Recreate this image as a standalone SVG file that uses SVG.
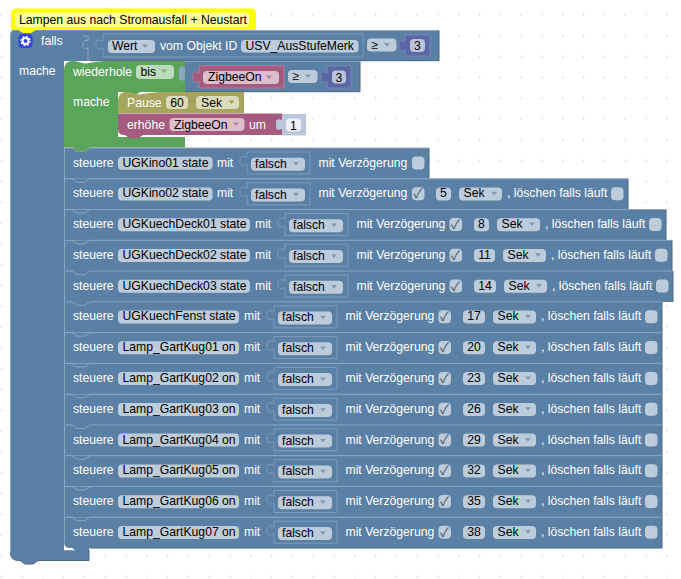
<svg xmlns="http://www.w3.org/2000/svg" width="681" height="579" viewBox="0 0 681 579">
<style>
text{font-family:"Liberation Sans",Arial,sans-serif;font-size:12.2px;white-space:pre}
.w{fill:#fff}.k{fill:#000}
.c{text-anchor:middle}
.b{fill:#5b80a5}.lt{fill:none;stroke:#8ca6c0;stroke-width:1}.dk{fill:none;stroke:#496684;stroke-width:1}
.p{fill:#bdccdb;rx:4px}
.pg{fill:#bddbbd;rx:4px}.po{fill:#dbdbbd;rx:4px}.pr{fill:#dbbdcc;rx:4px}
.a{fill:#7f9ab6}.ag{fill:#7fb67f}.ao{fill:#a5a55b}.ar{fill:#b67f9a}
.cb{fill:#bdccdb;rx:4px}
.ck{font-family:"Noto Sans CJK JP","DejaVu Sans",sans-serif;font-size:13px;fill:#4a5560;text-anchor:middle}
.sock{fill:none;stroke:#7f9bb8;stroke-width:1}
</style>
<defs>
<pattern id="grid" x="0.6" y="14.6" width="20.8" height="20.8" patternUnits="userSpaceOnUse">
<path d="M0,0.5H2 M0.5,0V2" transform="translate(-.5,-.5)" stroke="#ccc" stroke-width="1" fill="none"/>
<path d="M20.8,0H22 M0,20.8H1" stroke="#ccc" stroke-width="1" fill="none"/>
</pattern>
<polygon id="ar" points="0,0 6,0 3,3.6"/>
<path id="sk" d="M0,0H63V22H0V12.5c-4,2 -7,1.5 -7,-2.5V7.5c0,-3 3,-3.5 7,-2Z"/>
</defs>
<rect width="681" height="579" fill="#fff"/>
<rect width="681" height="579" fill="url(#grid)"/>

<g id="block-falls">
<path class="b" d="M10.5,34q0,-4 4,-4H90V61H64V548H89V560.5H38l-5,3.5h-8l-5,-3.5H18.5q-8,0 -8,-8Z"/>
<path class="dk" d="M89,550V560.5H38l-5,3.500h-8l-5,-3.500H18.500q-8,0 -8,-8"/>
<path class="lt" d="M10.5,552V34q0,-4 4,-4H90"/>
<path d="M83,36h5v5c-3,-1 -5,-.5 -5,2v3c0,2.500 2,3 5,2v13" class="lt"/>
<rect x="18.500" y="34" width="14" height="14" rx="4" fill="#3344dd"/>
<circle cx="25.500" cy="41" r="3" fill="none" stroke="#fff" stroke-width="2"/>
<circle cx="25.500" cy="41" r="4.600" fill="none" stroke="#fff" stroke-width="1.300" stroke-dasharray="1.800 1.800"/>
<text class="w" x="41" y="45">falls</text>
<text class="w" x="19" y="75">mache</text>
</g>

<g id="cond-compare">
<path class="b" d="M90,30.500H439V60.700H90Z"/>
<path class="dk" d="M439,30.500V60.700H90"/>
<path class="lt" d="M90,30.500H439"/>
<path class="sock" d="M103,34H363V57H103V48c-4,2 -7,1.500 -7,-2.500V43c0,-3 3,-3.500 7,-2Z"/>
<rect class="p" x="108" y="40" width="47" height="13"/>
<text class="k" x="112" y="50">Wert</text>
<use href="#ar" x="142" y="44.500" class="a"/>
<text class="w" x="160" y="50">vom Objekt ID</text>
<rect class="p" x="241" y="40" width="117.500" height="12.500"/>
<text class="k" x="245.500" y="50">USV_AusStufeMerk</text>
<rect class="p" x="367" y="38.500" width="29.500" height="13"/>
<text class="k" x="371.500" y="48.500">≥</text>
<use href="#ar" x="384" y="43" class="a"/>
<path d="M405,35H430V56H405V50c-4,2 -6,1 -6,-2V44c0,-3 2,-4 6,-2Z" fill="#5b67a5" stroke="#7b85b7"/>
<rect x="410" y="39" width="15" height="13" rx="4" fill="#bdc2db"/>
<text class="k c" x="417.500" y="50">3</text>
</g>

<g id="row-01" transform="translate(0,148)">
<path class="b" d="M64,0H429V30.800H64Z"/><path class="lt" d="M64.500,30V0H72l5,3.500h8L90,0H429"/><path class="dk" d="M429,0V30.800"/>
<text class="w" x="73" y="18.700">steuere</text><rect class="p" x="118" y="8.700" width="94.500" height="13"/><text class="k" x="122.500" y="18.700">UGKino01 state</text>
<text class="w" x="217" y="18.700">mit</text><use href="#sk" x="247" y="4" class="sock"/><rect class="p" x="251" y="9.700" width="54" height="13"/><text class="k" x="255" y="20.200">falsch</text><use href="#ar" x="293" y="14" class="a"/>
<text class="w" x="318.500" y="18.700">mit Verzögerung</text><rect class="cb" x="412" y="8.500" width="12.500" height="13"/>
</g>

<g id="block-wiederhole">
<path d="M64,70q0,-9 9,-9c5,0 9,2.500 12,2.500s12,-2.500 25,-2.500H185V92H140l-5,3.500h-7l-5,-3.500H118V137H185V147.500H90l-5,4h-7l-5,-4H64Z" fill="#5ba55b"/>
<rect class="pg" x="136" y="65" width="38" height="14"/>
<text class="k" x="140.500" y="76">bis</text>
<use href="#ar" x="161" y="69.500" class="ag"/>
<text class="w" x="73" y="76">wiederhole</text>
<text class="w" x="73" y="106">mache</text>
</g>

<g id="cond-bis">
<path class="b" d="M185,61.500H360V91.700H185Z"/>
<path class="dk" d="M360,61.500V91.700H185"/>
<path class="lt" d="M185,61.500H360"/>
<path d="M179,69c0,-3 3,-3 6,-2V80c-3,1 -6,1 -6,-2Z" fill="#8ca6c0"/>
<path d="M199,65.700H284V88H199V81c-4,2 -6,1 -6,-2V75c0,-3 2,-4 6,-2Z" fill="#a55b80" stroke="#b7799a"/>
<rect class="pr" x="203" y="71" width="76" height="13"/>
<text class="k" x="208" y="81">ZigbeeOn</text>
<use href="#ar" x="266" y="75.500" class="ar"/>
<rect class="p" x="288" y="70" width="29.500" height="13"/>
<text class="k" x="292.500" y="80">≥</text>
<use href="#ar" x="305" y="74.500" class="a"/>
<path d="M327,66H351V88H327V81c-4,2 -6,1 -6,-2V75c0,-3 2,-4 6,-2Z" fill="#5b67a5" stroke="#7b85b7"/>
<rect x="332" y="70.500" width="14" height="13" rx="4" fill="#bdc2db"/>
<text class="k c" x="339" y="81.500">3</text>
</g>

<g id="block-pause">
<path d="M118,101q0,-9 9,-9c5,0 9,2.500 12,2.500s12,-2.500 25,-2.500H244V113H118Z" fill="#a5a55b"/>
<text class="w" x="127" y="107">Pause</text>
<rect class="po" x="166" y="96" width="22" height="13"/>
<text class="k c" x="177" y="107">60</text>
<rect class="po" x="196" y="96" width="43" height="13"/>
<text class="k" x="201" y="107">Sek</text>
<use href="#ar" x="228.500" y="100.500" class="ao"/>
</g>

<g id="block-erhoehe">
<path d="M118,113.500H282V135H143l-5,3.500h-8l-5,-3.500H124q-6,0 -6,-6Z" fill="#a55b80"/>
<text class="w" x="127" y="129">erhöhe</text>
<rect class="pr" x="169.500" y="118" width="75" height="13"/>
<text class="k" x="174" y="129">ZigbeeOn</text>
<use href="#ar" x="233" y="122.500" class="ar"/>
<text class="w" x="249" y="129">um</text>
<path d="M282,114H306V135.500H282V129c-3,1.500 -6,1 -6,-2V122c0,-3 3,-3.500 6,-2Z" fill="#bcc5de"/>
<rect x="286" y="118.500" width="15" height="13" rx="4" fill="#eef1f8"/>
<text class="k c" x="293.500" y="129.500">1</text>
</g>

<g id="row-02" transform="translate(0,178.800)">
<path class="b" d="M64,0H628V30.800H64Z"/><path class="lt" d="M64.500,30V0H72l5,3.500h8L90,0H628"/><path class="dk" d="M628,0V30.800"/>
<text class="w" x="73" y="18.700">steuere</text><rect class="p" x="118" y="8.700" width="94.500" height="13"/><text class="k" x="122.500" y="18.700">UGKino02 state</text>
<text class="w" x="217" y="18.700">mit</text><use href="#sk" x="247" y="4" class="sock"/><rect class="p" x="251" y="9.700" width="54" height="13"/><text class="k" x="255" y="20.200">falsch</text><use href="#ar" x="293" y="14" class="a"/>
<text class="w" x="318.500" y="18.700">mit Verzögerung</text><rect class="cb" x="412" y="8.500" width="12.500" height="13"/><text class="ck" x="418" y="19.500">✓</text>
<rect class="p" x="436" y="8.700" width="15" height="13"/><text class="k c" x="443.500" y="18.700">5</text>
<rect class="p" x="459" y="8.700" width="43" height="13"/><text class="k" x="463.500" y="18.700">Sek</text><use href="#ar" x="491" y="13" class="a"/>
<text class="w" x="507" y="18.700">, löschen falls läuft</text><rect class="cb" x="611" y="8.500" width="12.500" height="13"/>
</g>

<g id="row-03" transform="translate(0,209.500)">
<path class="b" d="M64,0H666V30.800H64Z"/><path class="lt" d="M64.500,30V0H72l5,3.500h8L90,0H666"/><path class="dk" d="M666,0V30.800"/>
<text class="w" x="73" y="18.700">steuere</text><rect class="p" x="118" y="8.700" width="132" height="13"/><text class="k" x="122.500" y="18.700">UGKuechDeck01 state</text>
<text class="w" x="255" y="18.700">mit</text><use href="#sk" x="285" y="4" class="sock"/><rect class="p" x="289" y="9.700" width="54" height="13"/><text class="k" x="293" y="19.700">falsch</text><use href="#ar" x="331" y="14" class="a"/>
<text class="w" x="356.500" y="18.700">mit Verzögerung</text><rect class="cb" x="449.500" y="8.500" width="12.500" height="13"/><text class="ck" x="455.500" y="19.500">✓</text>
<rect class="p" x="474" y="8.700" width="15" height="13"/><text class="k c" x="481.500" y="18.700">8</text>
<rect class="p" x="497" y="8.700" width="43" height="13"/><text class="k" x="501.500" y="18.700">Sek</text><use href="#ar" x="529" y="13" class="a"/>
<text class="w" x="545" y="18.700">, löschen falls läuft</text><rect class="cb" x="649" y="8.500" width="12.500" height="13"/>
</g>

<g id="row-04" transform="translate(0,240.300)">
<path class="b" d="M64,0H672V30.800H64Z"/><path class="lt" d="M64.500,30V0H72l5,3.500h8L90,0H672"/><path class="dk" d="M672,0V30.800"/>
<text class="w" x="73" y="18.700">steuere</text><rect class="p" x="118" y="8.700" width="132" height="13"/><text class="k" x="122.500" y="18.700">UGKuechDeck02 state</text>
<text class="w" x="255" y="18.700">mit</text><use href="#sk" x="285" y="4" class="sock"/><rect class="p" x="289" y="9.700" width="54" height="13"/><text class="k" x="293" y="19.700">falsch</text><use href="#ar" x="331" y="14" class="a"/>
<text class="w" x="356.500" y="18.700">mit Verzögerung</text><rect class="cb" x="449.500" y="8.500" width="12.500" height="13"/><text class="ck" x="455.500" y="19.500">✓</text>
<rect class="p" x="474" y="8.700" width="21" height="13"/><text class="k c" x="484.500" y="18.700">11</text>
<rect class="p" x="503" y="8.700" width="43" height="13"/><text class="k" x="507.500" y="18.700">Sek</text><use href="#ar" x="535" y="13" class="a"/>
<text class="w" x="551" y="18.700">, löschen falls läuft</text><rect class="cb" x="655" y="8.500" width="12.500" height="13"/>
</g>

<g id="row-05" transform="translate(0,271.100)">
<path class="b" d="M64,0H673V30.800H64Z"/><path class="lt" d="M64.500,30V0H72l5,3.500h8L90,0H673"/><path class="dk" d="M673,0V30.800"/>
<text class="w" x="73" y="18.700">steuere</text><rect class="p" x="118" y="8.700" width="132" height="13"/><text class="k" x="122.500" y="18.700">UGKuechDeck03 state</text>
<text class="w" x="255" y="18.700">mit</text><use href="#sk" x="285" y="4" class="sock"/><rect class="p" x="289" y="9.700" width="54" height="13"/><text class="k" x="293" y="19.700">falsch</text><use href="#ar" x="331" y="14" class="a"/>
<text class="w" x="356.500" y="18.700">mit Verzögerung</text><rect class="cb" x="449.500" y="8.500" width="12.500" height="13"/><text class="ck" x="455.500" y="19.500">✓</text>
<rect class="p" x="474" y="8.700" width="22" height="13"/><text class="k c" x="485" y="18.700">14</text>
<rect class="p" x="504" y="8.700" width="43" height="13"/><text class="k" x="508.500" y="18.700">Sek</text><use href="#ar" x="536" y="13" class="a"/>
<text class="w" x="552" y="18.700">, löschen falls läuft</text><rect class="cb" x="656" y="8.500" width="12.500" height="13"/>
</g>

<g id="row-06" transform="translate(0,301.800)">
<path class="b" d="M64,0H662V30.800H64Z"/><path class="lt" d="M64.500,30V0H72l5,3.500h8L90,0H662"/><path class="dk" d="M662,0V30.800"/>
<text class="w" x="73" y="18.700">steuere</text><rect class="p" x="118" y="8.700" width="121" height="13"/><text class="k" x="122.500" y="18.700">UGKuechFenst state</text>
<text class="w" x="244" y="18.700">mit</text><use href="#sk" x="274" y="4" class="sock"/><rect class="p" x="278" y="9.700" width="54" height="13"/><text class="k" x="282" y="19.700">falsch</text><use href="#ar" x="320" y="14" class="a"/>
<text class="w" x="345.500" y="18.700">mit Verzögerung</text><rect class="cb" x="438.500" y="8.500" width="12.500" height="13"/><text class="ck" x="444.500" y="19.500">✓</text>
<rect class="p" x="463" y="8.700" width="22" height="13"/><text class="k c" x="474" y="18.700">17</text>
<rect class="p" x="493" y="8.700" width="43" height="13"/><text class="k" x="497.500" y="18.700">Sek</text><use href="#ar" x="525" y="13" class="a"/>
<text class="w" x="541" y="18.700">, löschen falls läuft</text><rect class="cb" x="645" y="8.500" width="12.500" height="13"/>
</g>

<g id="row-07" transform="translate(0,332.600)">
<path class="b" d="M64,0H662V30.800H64Z"/><path class="lt" d="M64.500,30V0H72l5,3.500h8L90,0H662"/><path class="dk" d="M662,0V30.800"/>
<text class="w" x="73" y="18.700">steuere</text><rect class="p" x="118" y="8.700" width="121" height="13"/><text class="k" x="122.500" y="18.700">Lamp_GartKug01 on</text>
<text class="w" x="244" y="18.700">mit</text><use href="#sk" x="274" y="4" class="sock"/><rect class="p" x="278" y="9.700" width="54" height="13"/><text class="k" x="282" y="19.700">falsch</text><use href="#ar" x="320" y="14" class="a"/>
<text class="w" x="345.500" y="18.700">mit Verzögerung</text><rect class="cb" x="438.500" y="8.500" width="12.500" height="13"/><text class="ck" x="444.500" y="19.500">✓</text>
<rect class="p" x="463" y="8.700" width="22" height="13"/><text class="k c" x="474" y="18.700">20</text>
<rect class="p" x="493" y="8.700" width="43" height="13"/><text class="k" x="497.500" y="18.700">Sek</text><use href="#ar" x="525" y="13" class="a"/>
<text class="w" x="541" y="18.700">, löschen falls läuft</text><rect class="cb" x="645" y="8.500" width="12.500" height="13"/>
</g>

<g id="row-08" transform="translate(0,363.400)">
<path class="b" d="M64,0H662V30.800H64Z"/><path class="lt" d="M64.500,30V0H72l5,3.500h8L90,0H662"/><path class="dk" d="M662,0V30.800"/>
<text class="w" x="73" y="18.700">steuere</text><rect class="p" x="118" y="8.700" width="121" height="13"/><text class="k" x="122.500" y="18.700">Lamp_GartKug02 on</text>
<text class="w" x="244" y="18.700">mit</text><use href="#sk" x="274" y="4" class="sock"/><rect class="p" x="278" y="9.700" width="54" height="13"/><text class="k" x="282" y="19.700">falsch</text><use href="#ar" x="320" y="14" class="a"/>
<text class="w" x="345.500" y="18.700">mit Verzögerung</text><rect class="cb" x="438.500" y="8.500" width="12.500" height="13"/><text class="ck" x="444.500" y="19.500">✓</text>
<rect class="p" x="463" y="8.700" width="22" height="13"/><text class="k c" x="474" y="18.700">23</text>
<rect class="p" x="493" y="8.700" width="43" height="13"/><text class="k" x="497.500" y="18.700">Sek</text><use href="#ar" x="525" y="13" class="a"/>
<text class="w" x="541" y="18.700">, löschen falls läuft</text><rect class="cb" x="645" y="8.500" width="12.500" height="13"/>
</g>

<g id="row-09" transform="translate(0,394.200)">
<path class="b" d="M64,0H662V30.800H64Z"/><path class="lt" d="M64.500,30V0H72l5,3.500h8L90,0H662"/><path class="dk" d="M662,0V30.800"/>
<text class="w" x="73" y="18.700">steuere</text><rect class="p" x="118" y="8.700" width="121" height="13"/><text class="k" x="122.500" y="18.700">Lamp_GartKug03 on</text>
<text class="w" x="244" y="18.700">mit</text><use href="#sk" x="274" y="4" class="sock"/><rect class="p" x="278" y="9.700" width="54" height="13"/><text class="k" x="282" y="19.700">falsch</text><use href="#ar" x="320" y="14" class="a"/>
<text class="w" x="345.500" y="18.700">mit Verzögerung</text><rect class="cb" x="438.500" y="8.500" width="12.500" height="13"/><text class="ck" x="444.500" y="19.500">✓</text>
<rect class="p" x="463" y="8.700" width="22" height="13"/><text class="k c" x="474" y="18.700">26</text>
<rect class="p" x="493" y="8.700" width="43" height="13"/><text class="k" x="497.500" y="18.700">Sek</text><use href="#ar" x="525" y="13" class="a"/>
<text class="w" x="541" y="18.700">, löschen falls läuft</text><rect class="cb" x="645" y="8.500" width="12.500" height="13"/>
</g>

<g id="row-10" transform="translate(0,424.900)">
<path class="b" d="M64,0H662V30.800H64Z"/><path class="lt" d="M64.500,30V0H72l5,3.500h8L90,0H662"/><path class="dk" d="M662,0V30.800"/>
<text class="w" x="73" y="18.700">steuere</text><rect class="p" x="118" y="8.700" width="121" height="13"/><text class="k" x="122.500" y="18.700">Lamp_GartKug04 on</text>
<text class="w" x="244" y="18.700">mit</text><use href="#sk" x="274" y="4" class="sock"/><rect class="p" x="278" y="9.700" width="54" height="13"/><text class="k" x="282" y="19.700">falsch</text><use href="#ar" x="320" y="14" class="a"/>
<text class="w" x="345.500" y="18.700">mit Verzögerung</text><rect class="cb" x="438.500" y="8.500" width="12.500" height="13"/><text class="ck" x="444.500" y="19.500">✓</text>
<rect class="p" x="463" y="8.700" width="22" height="13"/><text class="k c" x="474" y="18.700">29</text>
<rect class="p" x="493" y="8.700" width="43" height="13"/><text class="k" x="497.500" y="18.700">Sek</text><use href="#ar" x="525" y="13" class="a"/>
<text class="w" x="541" y="18.700">, löschen falls läuft</text><rect class="cb" x="645" y="8.500" width="12.500" height="13"/>
</g>

<g id="row-11" transform="translate(0,455.700)">
<path class="b" d="M64,0H662V30.800H64Z"/><path class="lt" d="M64.500,30V0H72l5,3.500h8L90,0H662"/><path class="dk" d="M662,0V30.800"/>
<text class="w" x="73" y="18.700">steuere</text><rect class="p" x="118" y="8.700" width="121" height="13"/><text class="k" x="122.500" y="18.700">Lamp_GartKug05 on</text>
<text class="w" x="244" y="18.700">mit</text><use href="#sk" x="274" y="4" class="sock"/><rect class="p" x="278" y="9.700" width="54" height="13"/><text class="k" x="282" y="19.700">falsch</text><use href="#ar" x="320" y="14" class="a"/>
<text class="w" x="345.500" y="18.700">mit Verzögerung</text><rect class="cb" x="438.500" y="8.500" width="12.500" height="13"/><text class="ck" x="444.500" y="19.500">✓</text>
<rect class="p" x="463" y="8.700" width="22" height="13"/><text class="k c" x="474" y="18.700">32</text>
<rect class="p" x="493" y="8.700" width="43" height="13"/><text class="k" x="497.500" y="18.700">Sek</text><use href="#ar" x="525" y="13" class="a"/>
<text class="w" x="541" y="18.700">, löschen falls läuft</text><rect class="cb" x="645" y="8.500" width="12.500" height="13"/>
</g>

<g id="row-12" transform="translate(0,486.500)">
<path class="b" d="M64,0H662V30.800H64Z"/><path class="lt" d="M64.500,30V0H72l5,3.500h8L90,0H662"/><path class="dk" d="M662,0V30.800"/>
<text class="w" x="73" y="18.700">steuere</text><rect class="p" x="118" y="8.700" width="121" height="13"/><text class="k" x="122.500" y="18.700">Lamp_GartKug06 on</text>
<text class="w" x="244" y="18.700">mit</text><use href="#sk" x="274" y="4" class="sock"/><rect class="p" x="278" y="9.700" width="54" height="13"/><text class="k" x="282" y="19.700">falsch</text><use href="#ar" x="320" y="14" class="a"/>
<text class="w" x="345.500" y="18.700">mit Verzögerung</text><rect class="cb" x="438.500" y="8.500" width="12.500" height="13"/><text class="ck" x="444.500" y="19.500">✓</text>
<rect class="p" x="463" y="8.700" width="22" height="13"/><text class="k c" x="474" y="18.700">35</text>
<rect class="p" x="493" y="8.700" width="43" height="13"/><text class="k" x="497.500" y="18.700">Sek</text><use href="#ar" x="525" y="13" class="a"/>
<text class="w" x="541" y="18.700">, löschen falls läuft</text><rect class="cb" x="645" y="8.500" width="12.500" height="13"/>
</g>

<g id="row-13" transform="translate(0,517.200)">
<path fill="#fff" d="M64,24H80V33H64Z"/>
<path class="b" d="M64,0H662V30.800H90l-5,3.500h-8l-5,-3.500H70q-6,0 -6,-6Z"/><path class="lt" d="M64.500,25V0H72l5,3.500h8L90,0H662"/><path class="dk" d="M662,0V30.800H90"/>
<text class="w" x="73" y="18.700">steuere</text><rect class="p" x="118" y="8.700" width="121" height="13"/><text class="k" x="122.500" y="18.700">Lamp_GartKug07 on</text>
<text class="w" x="244" y="18.700">mit</text><use href="#sk" x="274" y="4" class="sock"/><rect class="p" x="278" y="9.700" width="54" height="13"/><text class="k" x="282" y="19.700">falsch</text><use href="#ar" x="320" y="14" class="a"/>
<text class="w" x="345.500" y="18.700">mit Verzögerung</text><rect class="cb" x="438.500" y="8.500" width="12.500" height="13"/><text class="ck" x="444.500" y="19.500">✓</text>
<rect class="p" x="463" y="8.700" width="22" height="13"/><text class="k c" x="474" y="18.700">38</text>
<rect class="p" x="493" y="8.700" width="43" height="13"/><text class="k" x="497.500" y="18.700">Sek</text><use href="#ar" x="525" y="13" class="a"/>
<text class="w" x="541" y="18.700">, löschen falls läuft</text><rect class="cb" x="645" y="8.500" width="12.500" height="13"/>
</g>

<g id="comment">
<path d="M11,14q0,-5.500 5.500,-5.500H251q5,0 5,5V30H36l-5,3h-8l-5,-3H11Z" fill="#ffff00"/>
<rect x="15" y="12.500" width="234" height="14.500" rx="3" fill="#ffff9e"/>
<text class="k" x="19" y="24">Lampen aus nach Stromausfall + Neustart</text>
</g>
</svg>
